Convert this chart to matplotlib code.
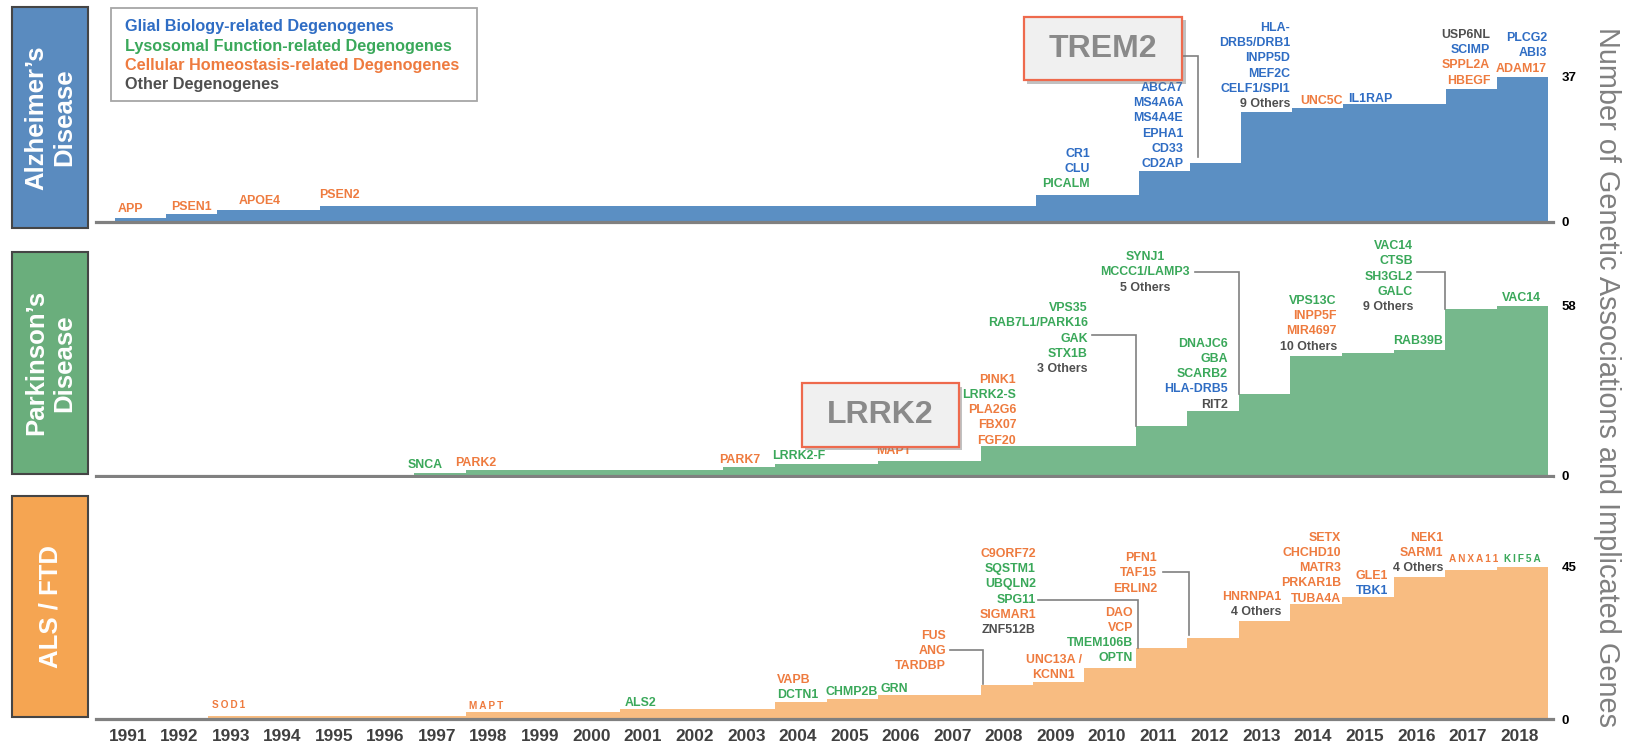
import matplotlib
matplotlib.use('Agg')
import matplotlib.pyplot as plt
import matplotlib.patheffects as pe
from matplotlib.patches import Rectangle
from matplotlib.transforms import Affine2D
import numpy as np

plt.rcParams['font.family'] = ['Liberation Sans', 'DejaVu Sans']

W, H = 1631, 744

years = list(range(1991, 2019))
year_labels = [str(y) for y in years]

# cumulative number of genetic associations / implicated genes
ad_counts = [1, 2, 3, 3, 4, 4, 4, 4, 4, 4, 4, 4, 4, 4, 4, 4, 4, 4,
             7, 7, 13, 15, 28, 29, 30, 30, 34, 37]
pd_counts = [0, 0, 0, 0, 0, 0, 1, 2, 2, 2, 2, 2,
             3, 4, 4, 5, 5, 10, 10, 10, 17, 22, 28, 41, 42, 43, 57, 58]
als_counts = [0, 0, 1, 1, 1, 1, 1, 2, 2, 2, 3, 3, 3,
              5, 6, 7, 7, 10, 11, 15, 21, 24, 29, 34, 36, 42, 44, 45]

# gene groups, one category letter per name:
# g = glial biology, l = lysosomal function, h = cellular homeostasis, o = other
ad_genes = [
    (['APP'], 'h'),
    (['PSEN1'], 'h'),
    (['APOE4'], 'h'),
    (['PSEN2'], 'h'),
    (['CR1', 'CLU', 'PICALM'], 'ggl'),
    (['ABCA7', 'MS4A6A', 'MS4A4E', 'EPHA1', 'CD33', 'CD2AP'], 'gggggg'),
    (['HLA-', 'DRB5/DRB1', 'INPP5D', 'MEF2C', 'CELF1/SPI1', '9 Others'], 'gggggo'),
    (['UNC5C'], 'h'),
    (['IL1RAP'], 'g'),
    (['USP6NL', 'SCIMP', 'SPPL2A', 'HBEGF'], 'oghh'),
    (['PLCG2', 'ABI3', 'ADAM17'], 'ggh'),
]
pd_genes = [
    (['SNCA'], 'l'),
    (['PARK2'], 'h'),
    (['PARK7'], 'h'),
    (['LRRK2-F'], 'l'),
    (['MAPT'], 'h'),
    (['PINK1', 'LRRK2-S', 'PLA2G6', 'FBX07', 'FGF20'], 'hlhhh'),
    (['VPS35', 'RAB7L1/PARK16', 'GAK', 'STX1B', '3 Others'], 'llllo'),
    (['DNAJC6', 'GBA', 'SCARB2', 'HLA-DRB5', 'RIT2'], 'lllgo'),
    (['SYNJ1', 'MCCC1/LAMP3', '5 Others'], 'llo'),
    (['VPS13C', 'INPP5F', 'MIR4697', '10 Others'], 'lhho'),
    (['RAB39B'], 'l'),
    (['VAC14', 'CTSB', 'SH3GL2', 'GALC', '9 Others'], 'llllo'),
    (['VAC14'], 'l'),
]
als_genes = [
    (['SOD1'], 'h'),
    (['MAPT'], 'h'),
    (['ALS2'], 'l'),
    (['VAPB', 'DCTN1'], 'hl'),
    (['CHMP2B'], 'l'),
    (['GRN'], 'l'),
    (['FUS', 'ANG', 'TARDBP'], 'hhh'),
    (['UNC13A /', 'KCNN1'], 'hh'),
    (['DAO', 'VCP', 'TMEM106B', 'OPTN'], 'hhll'),
    (['C9ORF72', 'SQSTM1', 'UBQLN2', 'SPG11', 'SIGMAR1', 'ZNF512B'], 'hlllho'),
    (['PFN1', 'TAF15', 'ERLIN2'], 'hhh'),
    (['HNRNPA1', '4 Others'], 'ho'),
    (['SETX', 'CHCHD10', 'MATR3', 'PRKAR1B', 'TUBA4A'], 'hhhhh'),
    (['GLE1', 'TBK1'], 'hg'),
    (['NEK1', 'SARM1', '4 Others'], 'hho'),
    (['ANXA11'], 'h'),
    (['KIF5A'], 'l'),
]

legend_labels = ['Glial Biology-related Degenogenes',
                 'Lysosomal Function-related Degenogenes',
                 'Cellular Homeostasis-related Degenogenes',
                 'Other Degenogenes']
legend_cats = 'glho'

# ---------------- layout ----------------
COL = {'g': '#2F6DC4', 'l': '#3AA85A', 'h': '#EE7B3F', 'o': '#4F4F4F'}

# label anchors (x in years, y in counts, alignment, size)
ad_pos = [(1990.60, 3.3, 'left'), (1991.63, 3.8, 'left'), (1992.96, 5.4, 'left'),
          (1994.53, 6.9, 'left'), (2009.59, 17.35, 'right'), (2011.41, 34.2, 'right'),
          (2013.50, 49.5, 'right'), (2013.69, 30.9, 'left'), (2014.63, 31.4, 'left'),
          (2017.41, 47.7, 'right'), (2018.52, 46.9, 'right')]
pd_pos = [(1996.42, 3.65, 'left'), (1997.33, 4.33, 'left'), (2002.45, 5.36, 'left'),
          (2003.48, 6.72, 'left'), (2005.50, 8.43, 'left'), (2008.22, 32.7, 'right'),
          (2009.61, 57.2, 'right'), (2012.33, 45.0, 'right'), (2010.72, 74.6, 'center'),
          (2014.44, 59.6, 'right'), (2016.50, 46.0, 'right'), (2015.92, 78.3, 'right'),
          (2018.03, 60.6, 'center')]
als_pos = [(1992.62, 4.14, 'left', 's'), (1997.60, 3.85, 'left', 's'), (2000.63, 4.73, 'left'),
           (2003.58, 11.6, 'left'), (2004.51, 8.0, 'left'), (2005.58, 8.9, 'left'),
           (2006.86, 24.6, 'right'), (2008.95, 17.5, 'center'), (2010.49, 31.4, 'right'),
           (2008.60, 48.8, 'right'), (2010.95, 47.6, 'right'), (2013.36, 36.1, 'right'),
           (2014.52, 53.6, 'right'), (2015.43, 42.3, 'right'), (2016.50, 53.6, 'right'),
           (2016.62, 47.3, 'left', 's'), (2017.68, 47.3, 'left', 's')]

# leader lines: start x, start y, target year, corner shift, gap above step
ad_leaders = [(2011.39, 42.3, 2012, 0.16, 1.6)]
pd_leaders = [(2009.69, 48.0, 2011, 0.0, 0.0), (2011.69, 69.5, 2013, 0.0, 0.0),
              (2015.99, 69.5, 2017, 0.0, 0.0)]
als_leaders = [(2006.93, 20.4, 2008, 0.03, 0.4), (2008.64, 35.2, 2011, 0.04, 0.0),
               (2011.07, 43.5, 2012, 0.03, 1.0)]

panels = [
    dict(title='Alzheimer\u2019s\nDisease', counts=ad_counts, genes=ad_genes, pos=ad_pos,
         leaders=ad_leaders, fill='#5B8FC3', boxc='#5A8BBF', top=0, y0=222, unit=3.92,
         edge0=115, step=51.18, box=(6.7, 228), hl=('TREM2', 2008.30, 36.2, 2011.39, 52.3)),
    dict(title='Parkinson\u2019s\nDisease', counts=pd_counts, genes=pd_genes, pos=pd_pos,
         leaders=pd_leaders, fill='#76B88C', boxc='#6AAE7C', top=232, y0=475.7, unit=2.93,
         edge0=105, step=51.54, box=(251.7, 474), hl=('LRRK2', 2004.06, 9.8, 2007.11, 31.6)),
    dict(title='ALS / FTD', counts=als_counts, genes=als_genes, pos=als_pos,
         leaders=als_leaders, fill='#F8BC81', boxc='#F5A552', top=478, y0=719, unit=3.38,
         edge0=105, step=51.54, box=(496, 716.7), hl=None),
]

LINE_PX = 15.2
AX_L, AX_R = 96, 1553
OFF = 0.46

fig = plt.figure(figsize=(W / 100, H / 100), dpi=100)
px = Affine2D().scale(1 / W, -1 / H).translate(0, 1) + fig.transFigure

edges = np.array(years + [years[-1] + 1], dtype=float) - OFF

for i, p in enumerate(panels):
    ax = fig.add_axes([AX_L / W, 1 - p['y0'] / H, (AX_R - AX_L) / W, (p['y0'] - p['top']) / H])
    x_first = years[0] - OFF
    ax.set_xlim(x_first + (AX_L - p['edge0']) / p['step'], x_first + (AX_R - p['edge0']) / p['step'])
    ax.set_ylim(0, (p['y0'] - p['top']) / p['unit'])

    counts = p['counts']
    ax.stairs(counts, edges, fill=True, color=p['fill'], baseline=0, zorder=1)

    for s in ['top', 'left', 'right']:
        ax.spines[s].set_visible(False)
    ax.spines['bottom'].set_color('#808080')
    ax.spines['bottom'].set_linewidth(2.3)

    ax.yaxis.tick_right()
    ax.set_yticks([0, counts[-1]])
    ax.set_yticklabels(['0', str(counts[-1])], fontsize=9.5, fontweight='bold', color='black')
    ax.tick_params(axis='y', length=0, pad=6)

    if i == 2:
        ax.set_xticks(np.array(years) - 0.02)
        ax.set_xticklabels(year_labels, fontsize=12.4, fontweight='bold', color='#404040')
        ax.tick_params(axis='x', length=0, pad=7)
    else:
        ax.set_xticks([])

    sp = LINE_PX / p['unit']
    for (names, cats), anchor in zip(p['genes'], p['pos']):
        x, ytop, ha = anchor[:3]
        small = len(anchor) > 3
        for k, (name, c) in enumerate(zip(names, cats)):
            txt = '\u2009'.join(name) if small else name
            ax.text(x, ytop - k * sp, txt, ha=ha, va='center', color=COL[c],
                    fontsize=7.2 if small else 8.9, fontweight='bold', zorder=4, clip_on=False)

    for x0, y0, yr, dx, gap in p['leaders']:
        j = years.index(yr)
        xc = edges[j] + dx
        ax.plot([x0, xc, xc], [y0, y0, counts[j] + gap], color='#808080', lw=1.2,
                zorder=3, clip_on=False, solid_joinstyle='miter')

    if p['hl'] is not None:
        name, hx0, hy0, hx1, hy1 = p['hl']
        r = Rectangle((hx0, hy0), hx1 - hx0, hy1 - hy0, facecolor='#F0F0F0',
                      edgecolor='#EE6A4D', lw=1.6, zorder=5, clip_on=False)
        r.set_path_effects([pe.SimplePatchShadow(offset=(2.5, -2.5), shadow_rgbFace='#777777', alpha=0.45),
                            pe.Normal()])
        ax.add_patch(r)
        ax.text((hx0 + hx1) / 2, (hy0 + hy1) / 2, name, ha='center', va='center',
                fontsize=23, fontweight='bold', color='#8A8A8A', zorder=6)

    # disease label box
    b0, b1 = p['box']
    fig.patches.append(Rectangle((12.5, b0), 75.5, b1 - b0, transform=px,
                                 facecolor=p['boxc'], edgecolor='#454545', lw=1.5))
    fig.text(50.5, (b0 + b1) / 2, p['title'], transform=px, rotation=90, ha='center',
             va='center', ma='center', color='white', fontsize=18.5, fontweight='bold',
             linespacing=1.2)

# legend box
fig.patches.append(Rectangle((111, 8), 366, 93, transform=px, facecolor='white',
                             edgecolor='#A6A6A6', lw=1.3))
for yy, lab, c in zip([26, 46, 65.5, 85], legend_labels, legend_cats):
    fig.text(125, yy, lab, transform=px, ha='left', va='center', color=COL[c],
             fontsize=11.7, fontweight='bold')

fig.text(1607, 377, 'Number of Genetic Associations and Implicated Genes', transform=px,
         rotation=270, ha='center', va='center', fontsize=20.8, color='#808080')

fig.savefig('out.png', dpi=100, facecolor='white')
